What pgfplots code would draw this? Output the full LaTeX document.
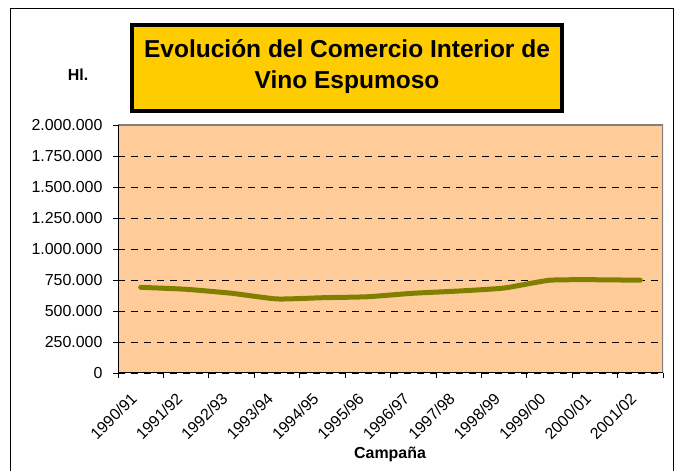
\documentclass[border=0pt]{standalone}
\usepackage{pgfplots}
\pgfplotsset{compat=1.18}
\usepackage{fontspec}
\setmainfont{Liberation Sans}
\definecolor{peach}{HTML}{FFCC99}
\definecolor{titlebg}{HTML}{FFCC00}
\definecolor{olivel}{HTML}{808000}

\begin{document}
\begin{tikzpicture}[x=1bp,y=1bp]
\useasboundingbox (0,0) rectangle (676,471);
% outer frame (bottom edge falls outside the picture)
\draw[black,line width=1bp] (10,-5) -- (10,462) -- (673,462) -- (673,-5);
% title box
\draw[fill=titlebg,line width=3.5bp] (132,446) rectangle (562,360);
\node[align=center,font=\fontsize{24.6}{31}\selectfont\bfseries] at (347,404)
  {Evolución del Comercio Interior de\\Vino Espumoso};
\node[font=\fontsize{16}{19}\selectfont\bfseries] at (78,396) {Hl.};
\node[font=\fontsize{16}{19}\selectfont\bfseries] at (390,17) {Campaña};

\begin{axis}[at={(118bp,98bp)},anchor=south west,
  width=545bp,height=248bp,scale only axis,
  xmin=-0.5,xmax=11.5,ymin=0,ymax=2000000,
  axis line style={draw=none},
  axis background/.style={fill=peach},
  xtick={0,...,11},
  xticklabels={1990/91,1991/92,1992/93,1993/94,1994/95,1995/96,1996/97,1997/98,1998/99,1999/00,2000/01,2001/02},
  minor xtick={-0.5,0.5,...,11.5},
  major x tick style={draw=none},
  ytick={0,250000,500000,750000,1000000,1250000,1500000,1750000,2000000},
  xtick pos=left,ytick pos=left,
  scaled y ticks=false,
  tick align=outside,
  major tick length=5bp,minor tick length=5bp,
  tick style={black,line width=0.8bp},
  ymajorgrids,
  grid style={black,line width=0.8bp,dash pattern=on 7bp off 6bp},
  /pgf/number format/.cd,fixed,1000 sep={.},assume math mode=true,
  /pgfplots/.cd,
  tick label style={font=\fontsize{16}{19}\selectfont},
  yticklabel style={xshift=-7bp},
  xticklabel style={xshift=-11bp,yshift=-12bp,rotate=45,anchor=north east,inner sep=1bp},
]
\addplot[olivel,line width=5bp,line cap=round,smooth,tension=0.3] coordinates {
(0,691000) (1,675000) (2,643000) (3,597000) (4,607000) (5,615000)
(6,643000) (7,661000) (8,685000) (9,748000) (10,752000) (11,748000)};
\draw[gray,line width=1.2bp] (rel axis cs:0,1) -- (rel axis cs:1,1) -- (rel axis cs:1,0);
\draw[black,line width=1bp] (rel axis cs:0,1) -- (rel axis cs:0,0) -- (rel axis cs:1,0);
\end{axis}
\end{tikzpicture}
\end{document}
